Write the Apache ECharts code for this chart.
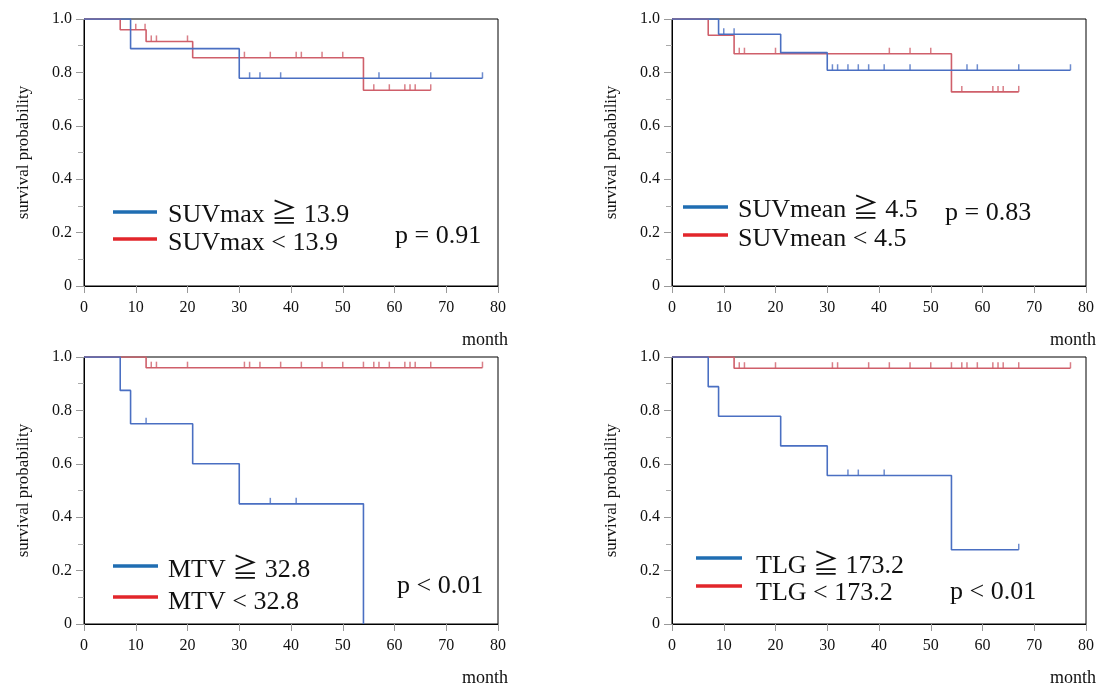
<!DOCTYPE html>
<html>
<head>
<meta charset="utf-8">
<script src="https://cdn.jsdelivr.net/npm/echarts@6/dist/echarts.min.js"></script>
<style>
html,body{margin:0;padding:0;background:#fff;}
#chart{width:1097px;height:684px;}
</style>
</head>
<body>
<div id="chart"></div>
<script>
// ---------- DATA ----------
const xTicks = [0, 10, 20, 30, 40, 50, 60, 70, 80];
const yTicks = [0, 0.2, 0.4, 0.6, 0.8, 1.0];

// SUVmax panel
const suvmaxHighTime = [0, 9, 30, 77];
const suvmaxHighSurv = [1.0, 0.889, 0.778, 0.778];
const suvmaxHighCens = [32, 34, 38, 57, 67, 77];
const suvmaxLowTime = [0, 7, 12, 21, 54, 67];
const suvmaxLowSurv = [1.0, 0.96, 0.916, 0.855, 0.733, 0.733];
const suvmaxLowCens = [10, 11.8, 13, 14, 20, 31, 36, 41, 42, 46, 50, 56, 59, 62, 63, 64, 67];

// SUVmean panel
const suvmeanHighTime = [0, 9, 21, 30, 77];
const suvmeanHighSurv = [1.0, 0.943, 0.874, 0.808, 0.808];
const suvmeanHighCens = [10, 12, 31, 32, 34, 36, 38, 41, 46, 57, 59, 67, 77];
const suvmeanLowTime = [0, 7, 12, 54, 67];
const suvmeanLowSurv = [1.0, 0.939, 0.870, 0.727, 0.727];
const suvmeanLowCens = [13, 14, 20, 42, 46, 50, 56, 62, 63, 64, 67];

// MTV panel
const mtvHighTime = [0, 7, 9, 21, 30, 54];
const mtvHighSurv = [1.0, 0.875, 0.75, 0.6, 0.45, 0];
const mtvHighCens = [12, 36, 41];
const mtvLowTime = [0, 12, 77];
const mtvLowSurv = [1.0, 0.96, 0.96];
const mtvLowCens = [13, 14, 20, 31, 32, 34, 38, 42, 46, 50, 54, 56, 57, 59, 62, 63, 64, 67, 77];

// TLG panel
const tlgHighTime = [0, 7, 9, 21, 30, 54, 67];
const tlgHighSurv = [1.0, 0.889, 0.778, 0.667, 0.556, 0.278, 0.278];
const tlgHighCens = [34, 36, 41, 67];
const tlgLowTime = [0, 12, 77];
const tlgLowSurv = [1.0, 0.958, 0.958];
const tlgLowCens = [13, 14, 20, 31, 32, 38, 42, 46, 50, 54, 56, 57, 59, 62, 63, 64, 67, 77];

const legendHigh = ['SUVmax ≧ 13.9', 'SUVmean ≧ 4.5', 'MTV ≧ 32.8', 'TLG ≧ 173.2'];
const legendLow = ['SUVmax < 13.9', 'SUVmean < 4.5', 'MTV < 32.8', 'TLG < 173.2'];
const pTexts = ['p = 0.91', 'p = 0.83', 'p < 0.01', 'p < 0.01'];
const yAxisTitle = 'survival probability';
const xAxisTitle = 'month';

// ---------- BUILD ----------
const panels = [
  {hT: suvmaxHighTime, hS: suvmaxHighSurv, hC: suvmaxHighCens, lT: suvmaxLowTime, lS: suvmaxLowSurv, lC: suvmaxLowCens},
  {hT: suvmeanHighTime, hS: suvmeanHighSurv, hC: suvmeanHighCens, lT: suvmeanLowTime, lS: suvmeanLowSurv, lC: suvmeanLowCens},
  {hT: mtvHighTime, hS: mtvHighSurv, hC: mtvHighCens, lT: mtvLowTime, lS: mtvLowSurv, lC: mtvLowCens},
  {hT: tlgHighTime, hS: tlgHighSurv, hC: tlgHighCens, lT: tlgLowTime, lS: tlgLowSurv, lC: tlgLowCens}
];

const SERIF = "'Liberation Serif', 'Times New Roman', 'Noto Sans CJK JP', serif";
const BLUE = '#4a6fc2';
const RED = '#cf5f6a';
const LEG_BLUE = '#1f6db2';
const LEG_RED = '#e2262b';

function survAt(times, surv, t) {
  let v = surv[0];
  for (let i = 0; i < times.length; i++) { if (times[i] <= t) v = surv[i]; }
  return v;
}

const gridPos = [
  {left: 84, top: 19}, {left: 672, top: 19},
  {left: 84, top: 357}, {left: 672, top: 357}
];

const grids = [], xAxes = [], yAxes = [], series = [], graphics = [];

gridPos.forEach((g, i) => {
  grids.push({left: g.left, top: g.top, width: 414, height: 267, show: true,
    borderColor: '#000', borderWidth: 1, backgroundColor: 'transparent'});
  xAxes.push({type: 'value', gridIndex: i, min: xTicks[0], max: xTicks[xTicks.length - 1], interval: 10,
    axisLine: {show: true, lineStyle: {color: '#000', width: 1}},
    axisTick: {show: true, inside: false, length: 7, lineStyle: {color: '#999'}},
    axisLabel: {margin: 14, fontFamily: SERIF, fontSize: 16, color: '#111'},
    splitLine: {show: false}});
  yAxes.push({type: 'value', gridIndex: i, min: yTicks[0], max: yTicks[yTicks.length - 1], interval: 0.2,
    name: yAxisTitle, nameLocation: 'middle', nameGap: 52, nameRotate: 90,
    nameTextStyle: {fontFamily: SERIF, fontSize: 17, color: '#111'},
    axisLine: {show: true, lineStyle: {color: '#000', width: 1}},
    axisTick: {show: true, inside: false, length: 8, lineStyle: {color: '#999'}},
    minorTick: {show: true, splitNumber: 2, length: 6, lineStyle: {color: '#aaa'}},
    axisLabel: {margin: 12, fontFamily: SERIF, fontSize: 16, color: '#111',
      formatter: v => (v === 0 ? '0' : v.toFixed(1))},
    splitLine: {show: false}, minorSplitLine: {show: false}});

  const p = panels[i];
  const mk = (T, S) => T.map((t, k) => [t, S[k]]);
  series.push({type: 'line', xAxisIndex: i, yAxisIndex: i, step: 'end', showSymbol: false,
    data: mk(p.lT, p.lS), lineStyle: {color: RED, width: 1.6}, itemStyle: {color: RED}, z: 2, silent: true});
  series.push({type: 'scatter', xAxisIndex: i, yAxisIndex: i, symbol: 'rect', symbolSize: [1.5, 6], symbolOffset: [0, -3],
    data: p.lC.map(t => [t, survAt(p.lT, p.lS, t)]), itemStyle: {color: RED}, z: 2, silent: true});
  series.push({type: 'line', xAxisIndex: i, yAxisIndex: i, step: 'end', showSymbol: false,
    data: mk(p.hT, p.hS), lineStyle: {color: BLUE, width: 1.6}, itemStyle: {color: BLUE}, z: 3, silent: true});
  series.push({type: 'scatter', xAxisIndex: i, yAxisIndex: i, symbol: 'rect', symbolSize: [1.5, 6], symbolOffset: [0, -3],
    data: p.hC.map(t => [t, survAt(p.hT, p.hS, t)]), itemStyle: {color: BLUE}, z: 3, silent: true});

  // "month" label
  graphics.push({type: 'text', x: g.left + 424, y: g.top + 321,
    style: {text: xAxisTitle, fontFamily: SERIF, fontSize: 18, fill: '#111', align: 'right', verticalAlign: 'middle'}});
});

// legends + p values (layout positions)
const legLayout = [
  {lx1: 113, lx2: 157, ly1: 212, ly2: 239, tx: 168, ty1: 215, ty2: 243, px: 395, py: 236},
  {lx1: 683, lx2: 728, ly1: 207, ly2: 235, tx: 738, ty1: 210, ty2: 239, px: 945, py: 213},
  {lx1: 113, lx2: 158, ly1: 566, ly2: 597, tx: 168, ty1: 570, ty2: 602, px: 397, py: 586},
  {lx1: 696, lx2: 742, ly1: 558, ly2: 586, tx: 756, ty1: 566, ty2: 593, px: 950, py: 592}
];
legLayout.forEach((L, i) => {
  graphics.push({type: 'line', shape: {x1: L.lx1, y1: L.ly1, x2: L.lx2, y2: L.ly1}, style: {stroke: LEG_BLUE, lineWidth: 3.5}});
  graphics.push({type: 'line', shape: {x1: L.lx1, y1: L.ly2, x2: L.lx2, y2: L.ly2}, style: {stroke: LEG_RED, lineWidth: 3.5}});
  graphics.push({type: 'text', x: L.tx, y: L.ty1, style: {text: legendHigh[i], fontFamily: SERIF, fontSize: 26, fill: '#111', align: 'left', verticalAlign: 'middle'}});
  graphics.push({type: 'text', x: L.tx, y: L.ty2, style: {text: legendLow[i], fontFamily: SERIF, fontSize: 26, fill: '#111', align: 'left', verticalAlign: 'middle'}});
  graphics.push({type: 'text', x: L.px, y: L.py, style: {text: pTexts[i], fontFamily: SERIF, fontSize: 26, fill: '#111', align: 'left', verticalAlign: 'middle'}});
});

const chart = echarts.init(document.getElementById('chart'), null, {renderer: 'canvas'});
chart.setOption({
  animation: false,
  backgroundColor: '#fff',
  grid: grids, xAxis: xAxes, yAxis: yAxes, series: series, graphic: graphics
});
</script>
</body>
</html>
